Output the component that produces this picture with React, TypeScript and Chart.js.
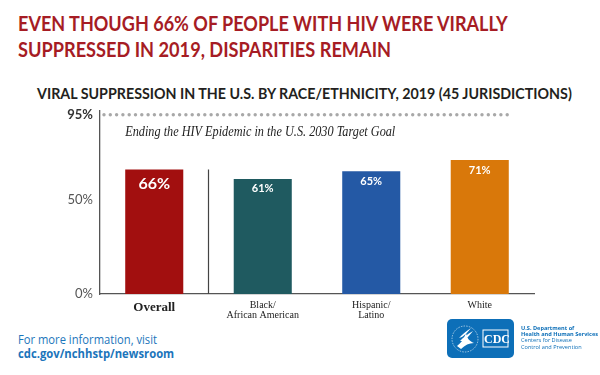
import React, { useEffect, useLayoutEffect, useRef } from "react";
import { Chart, registerables } from "chart.js";

Chart.register(...registerables);

const categories: string[][] = [["Overall"], ["Black/", "African American"], ["Hispanic/", "Latino"], ["White"]];
const suppression: number[] = [66, 61, 65, 71];
const barColors: string[] = ["#a20f0f", "#1f5a60", "#2459a5", "#d9780a"];
const yTicks: number[] = [0, 50, 95];
const targetGoal = 95;
const targetText = "Ending the HIV Epidemic in the U.S. 2030 Target Goal";
const titleLines: string[] = ["EVEN THOUGH 66% OF PEOPLE WITH HIV WERE VIRALLY", "SUPPRESSED IN 2019, DISPARITIES REMAIN"];
const subtitle = "VIRAL SUPPRESSION IN THE U.S. BY RACE/ETHNICITY, 2019 (45 JURISDICTIONS)";

function Fit(props: { text: string; left: number; top: number; width: number; style: React.CSSProperties }) {
  const ref = useRef<HTMLDivElement>(null);
  useLayoutEffect(() => {
    const el = ref.current;
    if (!el) return;
    el.style.transform = "none";
    const w = el.scrollWidth;
    if (w > 0) el.style.transform = `scaleX(${props.width / w})`;
  }, [props.text, props.width]);
  return (
    <div
      ref={ref}
      style={{
        position: "absolute",
        left: props.left,
        top: props.top,
        whiteSpace: "nowrap",
        transformOrigin: "0 0",
        lineHeight: 1,
        ...props.style,
      }}
    >
      {props.text}
    </div>
  );
}

const overlayPlugin = {
  id: "overlay",
  afterDatasetsDraw(chart: any) {
    const { ctx, chartArea } = chart;
    const y = chart.scales.y;
    const meta = chart.getDatasetMeta(0);
    const bars = meta.data as any[];
    ctx.save();
    // dotted target line
    const ty = y.getPixelForValue(targetGoal);
    const last = bars[bars.length - 1];
    const xEnd = last.x + last.width / 2;
    ctx.fillStyle = "#a8a8a8";
    for (let x = chartArea.left + 4; x <= xEnd; x += 6.3) {
      ctx.beginPath();
      ctx.arc(x, ty, 1.7, 0, Math.PI * 2);
      ctx.fill();
    }
    // target annotation
    const b0 = bars[0];
    const b2 = bars[2];
    ctx.fillStyle = "#222";
    ctx.font = "italic 14px 'Liberation Serif', serif";
    ctx.textBaseline = "middle";
    ctx.textAlign = "left";
    const tx = b0.x - b0.width / 2;
    ctx.fillText(targetText, tx, ty + 18, b2.x + b2.width / 2 - 5 - tx);
    // separator line
    const b1 = bars[1];
    const sx = (b0.x + b0.width / 2 + b1.x - b1.width / 2) / 2;
    ctx.strokeStyle = "#444";
    ctx.lineWidth = 1.2;
    ctx.beginPath();
    ctx.moveTo(sx, b0.y);
    ctx.lineTo(sx, chartArea.bottom);
    ctx.stroke();
    // value labels
    ctx.fillStyle = "#ffffff";
    ctx.textAlign = "center";
    bars.forEach((bar: any, i: number) => {
      const big = i === 0;
      ctx.font = big ? "bold 16px Lato, sans-serif" : "bold 11px Lato, sans-serif";
      ctx.fillText(suppression[i] + "%", bar.x, bar.y + (big ? 14 : 10));
    });
    ctx.restore();
  },
};

function ChartBox() {
  const canvasRef = useRef<HTMLCanvasElement>(null);
  useEffect(() => {
    if (!canvasRef.current) return;
    const chart = new Chart(canvasRef.current, {
      type: "bar",
      data: {
        labels: categories,
        datasets: [
          {
            data: suppression,
            backgroundColor: barColors,
            borderWidth: 0,
            barPercentage: 0.535,
            categoryPercentage: 1,
          },
        ],
      },
      options: {
        animation: false,
        responsive: false,
        maintainAspectRatio: false,
        layout: { padding: { left: 0, right: 66, top: 16, bottom: 0 } },
        plugins: { legend: { display: false }, tooltip: { enabled: false }, title: { display: false } },
        scales: {
          x: {
            grid: { display: false, drawTicks: false },
            border: { display: true, color: "#555", width: 1.3 },
            afterFit: (s: any) => {
              s.height = 31;
            },
            ticks: {
              padding: 6,
              maxRotation: 0,
              autoSkip: false,
              color: "#222",
              font: (c: any) =>
                c.index === 0
                  ? { family: "'Liberation Serif', serif", size: 13, weight: "bold", lineHeight: 1.2 }
                  : { family: "'Liberation Serif', serif", size: 10, weight: "normal", lineHeight: 1.05 },
            },
          },
          y: {
            min: 0,
            max: 97,
            grid: { display: false, drawTicks: false },
            border: { display: true, color: "#555", width: 1.3 },
            afterFit: (s: any) => {
              s.width = 100;
            },
            afterBuildTicks: (s: any) => {
              s.ticks = yTicks.map((v) => ({ value: v }));
            },
            ticks: {
              padding: 7,
              color: (c: any) => (c.tick && c.tick.value === targetGoal ? "#333" : "#555"),
              callback: (v: any) => v + "%",
              font: (c: any) =>
                c.tick && c.tick.value === targetGoal
                  ? { family: "Lato, sans-serif", size: 13, weight: "bold" }
                  : { family: "Lato, sans-serif", size: 13, weight: "normal" },
            },
          },
        },
      },
      plugins: [overlayPlugin],
    });
    return () => chart.destroy();
  }, []);
  return <canvas ref={canvasRef} width={600} height={230} style={{ position: "absolute", left: 0, top: 95, width: 600, height: 230 }} />;
}

function Logo() {
  return (
    <div style={{ position: "absolute", left: 447, top: 319, width: 153, height: 40 }}>
      <svg width={67} height={39} style={{ position: "absolute", left: 0, top: 0 }}>
        <rect x={0} y={0} width={67} height={39} rx={5} fill="#0d6fb8" />
        <circle cx={18} cy={20} r={13} fill="none" stroke="#ffffff" strokeWidth={0.6} strokeDasharray="1.5 1.2" />
        <path d="M10 27 C14 24 17 20 19 14 C20 19 22 22 27 24 C22 24 18 26 14 30 Z" fill="#ffffff" />
        <path d="M13 22 C16 19 20 15 26 12 C23 16 20 19 16 22 Z" fill="#ffffff" />
        <path d="M12 19 C15 16 19 12 24 9 C21 13 18 16 15 18 Z" fill="#ffffff" />
        <rect x={36} y={11} width={25} height={17} fill="none" stroke="#ffffff" strokeWidth={1} />
      </svg>
      <div style={{ position: "absolute", left: 37, top: 12, width: 24, height: 16, color: "#fff", font: "bold 12px 'Liberation Serif', serif", textAlign: "center", lineHeight: "16px" }}>
        CDC
      </div>
      <div style={{ position: "absolute", left: 74, top: 6, color: "#0d6fb8", font: "5.6px 'Open Sans', sans-serif", lineHeight: "6.2px", whiteSpace: "nowrap" }}>
        <div style={{ fontWeight: 700 }}>U.S. Department of</div>
        <div style={{ fontWeight: 700 }}>Health and Human Services</div>
        <div>Centers for Disease</div>
        <div>Control and Prevention</div>
      </div>
    </div>
  );
}

export default function App() {
  return (
    <div style={{ position: "absolute", left: 0, top: 0, width: 600, height: 375, background: "#fff", overflow: "hidden" }}>
      <Fit text={titleLines[0]} left={18} top={10} width={490} style={{ color: "#a61c24", font: "bold 21px Lato, sans-serif" }} />
      <Fit text={titleLines[1]} left={18} top={36} width={373} style={{ color: "#a61c24", font: "bold 21px Lato, sans-serif" }} />
      <Fit text={subtitle} left={37} top={83} width={535} style={{ color: "#231f20", font: "bold 16px Lato, sans-serif" }} />
      <ChartBox />
      <Fit text="For more information, visit" left={18} top={331} width={139} style={{ color: "#1b75bb", font: "12px 'Open Sans', sans-serif" }} />
      <Fit text="cdc.gov/nchhstp/newsroom" left={18} top={345} width={156} style={{ color: "#1b75bb", font: "bold 12px 'Open Sans', sans-serif" }} />
      <Logo />
    </div>
  );
}
